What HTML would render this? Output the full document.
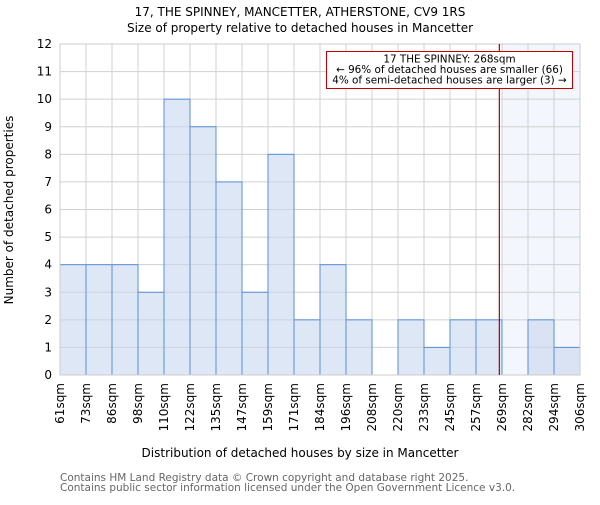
<!DOCTYPE html>
<html><head><meta charset="utf-8"><style>
body{margin:0;background:#fff}
svg text{font-family:"DejaVu Sans","Liberation Sans",sans-serif}
</style></head><body>
<svg id="c" width="600" height="500" viewBox="0 0 600 500">
<text x="300" y="16" text-anchor="middle" font-size="12">17, THE SPINNEY, MANCETTER, ATHERSTONE, CV9 1RS</text>
<text x="300" y="32" text-anchor="middle" font-size="12">Size of property relative to detached houses in Mancetter</text>
<g id="plot"></g>
<text x="300" y="457" text-anchor="middle" font-size="12">Distribution of detached houses by size in Mancetter</text>
<text transform="translate(13,210) rotate(-90)" text-anchor="middle" font-size="12">Number of detached properties</text>
<text x="60" y="481" font-size="10.5" fill="#666">Contains HM Land Registry data © Crown copyright and database right 2025.</text>
<text x="60" y="491" font-size="10.5" fill="#666">Contains public sector information licensed under the Open Government Licence v3.0.</text>
</svg>
<script>
const tickLabels=["61sqm","73sqm","86sqm","98sqm","110sqm","122sqm","135sqm","147sqm","159sqm","171sqm","184sqm","196sqm","208sqm","220sqm","233sqm","245sqm","257sqm","269sqm","282sqm","294sqm","306sqm"];
const counts=[4,4,4,3,10,9,7,3,8,2,4,2,0,2,1,2,2,0,2,1];
const yTicks=[0,1,2,3,4,5,6,7,8,9,10,11,12];
const minSize=61, maxSize=306, subjectSize=268, yMax=12;
const L=60,R=580,T=44,B=375;
const n=counts.length;
const x=v=>L+(v-minSize)/(maxSize-minSize)*(R-L);
const xb=i=>L+i*(R-L)/n;
const y=v=>B-v/yMax*(B-T);
const g=document.getElementById('plot');
const NS='http://www.w3.org/2000/svg';
function mk(t,a){const e=document.createElementNS(NS,t);for(const k in a)e.setAttribute(k,a[k]);g.appendChild(e);return e;}
const sh=mk('rect',{x:xb(17),y:T,width:R-xb(17),height:B-T,fill:'#f3f6fd'});


for(const v of yTicks){const l=mk('line',{x1:L,x2:R,y1:y(v),y2:y(v),stroke:'#d0d0d0','stroke-width':1});


const t=mk('text',{x:L-8,y:y(v)+4,'text-anchor':'end','font-size':12});t.textContent=v;

}
for(let i=0;i<=n;i++){const l=mk('line',{x1:xb(i),x2:xb(i),y1:T,y2:B,stroke:'#d0d0d0','stroke-width':1});


const t=mk('text',{transform:`translate(${xb(i)+4},${B+8}) rotate(-90)`,'text-anchor':'end','font-size':12});t.textContent=tickLabels[i];

}
counts.forEach((c,i)=>{if(!c)return;const r=mk('rect',{x:xb(i),y:y(c),width:xb(i+1)-xb(i),height:B-y(c),fill:'rgba(200,215,238,0.6)',stroke:'#5a8fd8','stroke-width':1});

});
const ax=mk('rect',{x:L,y:T,width:R-L,height:B-T,fill:'none',stroke:'#ccc'});


const sl=mk('line',{x1:x(subjectSize),x2:x(subjectSize),y1:T,y2:B,stroke:'#b00000','stroke-width':1.2});


const bx=mk('rect',{x:326.5,y:51.5,width:246,height:37,fill:'#fff',stroke:'#c00000','stroke-width':1});


["17 THE SPINNEY: 268sqm","← 96% of detached houses are smaller (66)","4% of semi-detached houses are larger (3) →"].forEach((s,i)=>{
const t=mk('text',{x:449.5,y:62.5+i*10.5,'text-anchor':'middle','font-size':10.4});t.textContent=s;

});
</script>
</body></html>
